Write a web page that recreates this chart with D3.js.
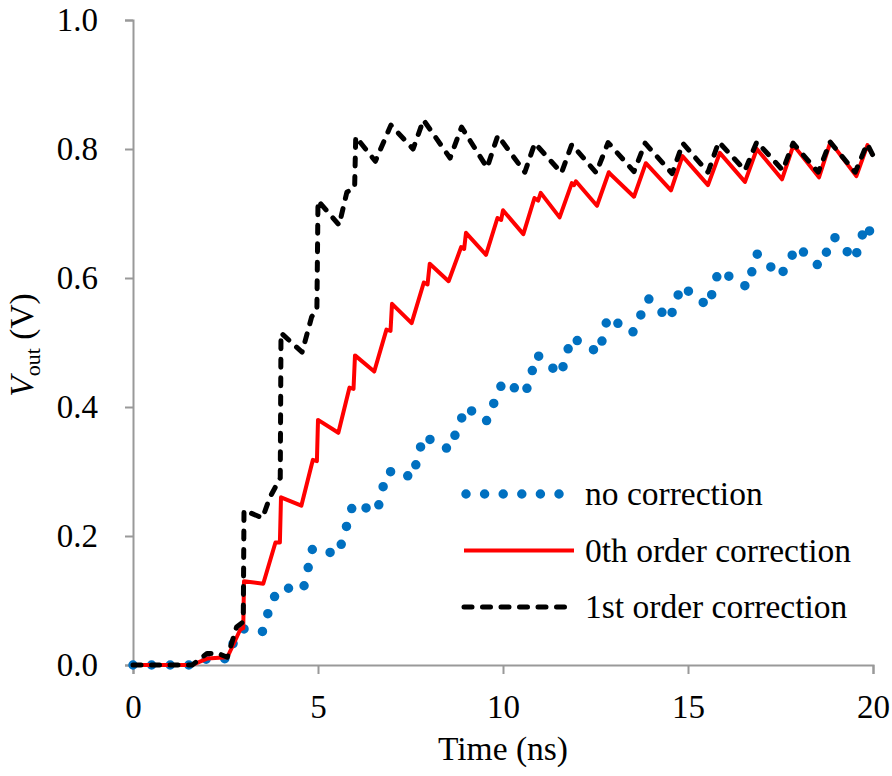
<!DOCTYPE html>
<html>
<head>
<meta charset="utf-8">
<script src="https://cdn.jsdelivr.net/npm/d3@7"></script>
<style>
  body { margin: 0; background: #fff; }
  svg { display: block; font-family: 'Liberation Serif', 'Times New Roman', serif; }
</style>
</head>
<body>
<svg id="chart" width="892" height="776"></svg>
<script>
// axis ticks
const xTicks = [0, 5, 10, 15, 20];
const yTicks = [0, 0.2, 0.4, 0.6, 0.8, 1.0];

const seriesNames = ['no correction', '0th order correction', '1st order correction'];

// no correction (dotted blue)
const noCorrTime = [0, 1.6, 1.95, 2.55, 2.75, 3.0, 3.5, 3.75, 4.0, 4.6, 4.85, 5.55, 5.95, 6.6, 6.85, 7.1,
  7.55, 7.85, 8.55, 9.0, 9.55, 10.0, 10.6, 10.92, 11.56, 11.85, 12.6, 12.83, 13.5, 13.93, 14.5, 14.82,
  15.55, 15.83, 16.6, 16.87, 17.5, 17.95, 18.55, 18.95, 19.5, 19.8, 20];
const noCorrVout = [0, 0, 0.009, 0.01, 0.04, 0.056, 0.052, 0.1, 0.12, 0.117, 0.18, 0.172, 0.25, 0.238, 0.298, 0.302,
  0.29, 0.355, 0.334, 0.4, 0.378, 0.44, 0.42, 0.481, 0.45, 0.508, 0.484, 0.54, 0.515, 0.568, 0.535, 0.588,
  0.556, 0.612, 0.586, 0.637, 0.603, 0.649, 0.618, 0.664, 0.628, 0.683, 0.664];

// 0th order correction (solid red)
const zerothTime = [0, 1.6, 2.0, 2.55, 2.9, 2.98, 3.0, 3.52, 3.85, 3.97, 4.0, 4.55, 4.86, 4.97, 5.0, 5.55,
  5.85, 5.96, 6.0, 6.52, 6.85, 6.96, 7.0, 7.53, 7.86, 7.96, 8.02, 8.53, 8.87, 8.95, 9.0, 9.54, 9.85, 9.95,
  10.0, 10.55, 10.85, 10.95, 11.02, 11.53, 11.86, 11.92, 11.97, 12.54, 12.86, 12.92, 13.54, 13.86, 14.54,
  14.85, 15.54, 15.86, 16.54, 16.86, 17.54, 17.85, 18.54, 18.85, 19.55, 19.85, 20];
const zerothVout = [0, 0, 0.01, 0.012, 0.055, 0.057, 0.13, 0.126, 0.19, 0.19, 0.26, 0.247, 0.318, 0.316, 0.38, 0.36,
  0.43, 0.428, 0.48, 0.455, 0.52, 0.518, 0.56, 0.53, 0.593, 0.59, 0.622, 0.595, 0.648, 0.645, 0.67, 0.636, 0.693, 0.69,
  0.705, 0.668, 0.724, 0.72, 0.732, 0.694, 0.747, 0.744, 0.75, 0.712, 0.764, 0.76, 0.726, 0.778, 0.736,
  0.789, 0.744, 0.794, 0.749, 0.8, 0.753, 0.806, 0.756, 0.811, 0.758, 0.806, 0.79];

// 1st order correction (dashed black)
const firstTime = [0, 1.6, 2.0, 2.3, 2.55, 2.8, 2.98, 3.0, 3.5, 3.7, 3.98, 4.0, 4.57, 4.83, 4.97, 5.0, 5.57, 5.78,
  5.99, 6.02, 6.55, 6.97, 7.57, 7.85, 8.57, 8.88, 9.57, 9.86, 10.59, 10.86, 11.58, 11.86, 12.52, 12.84,
  13.54, 13.84, 14.57, 14.86, 15.54, 15.83, 16.54, 16.86, 17.56, 17.84, 18.52, 18.84, 19.52, 19.84, 20];
const firstVout = [0, 0, 0.018, 0.018, 0.012, 0.059, 0.067, 0.24, 0.228, 0.26, 0.29, 0.515, 0.485, 0.54, 0.55, 0.72, 0.682, 0.733,
  0.74, 0.819, 0.781, 0.837, 0.80, 0.845, 0.786, 0.834, 0.771, 0.821, 0.764, 0.809, 0.763, 0.807, 0.763, 0.81,
  0.765, 0.809, 0.762, 0.809, 0.764, 0.811, 0.767, 0.811, 0.767, 0.809, 0.764, 0.811, 0.764, 0.808, 0.79];

class VoutChart {
  constructor(_config) {
    this.config = {
      parentElementSelector: _config.parentElementSelector,
      margin: _config.margin || { top: 20, right: 19, bottom: 111, left: 133 },
    };
    this.series = [
      { name: seriesNames[0], time: noCorrTime, vout: noCorrVout, color: '#0070c0', width: 9.5, dash: '0 18.6' },
      { name: seriesNames[1], time: zerothTime, vout: zerothVout, color: '#ff0000', width: 4, dash: null },
      { name: seriesNames[2], time: firstTime, vout: firstVout, color: '#000000', width: 5, dash: '8 10.5' },
    ];
    this.initVis();
  }

  initVis() {
    this.svg = d3.select(this.config.parentElementSelector);
    const m = this.config.margin;
    this.width = +this.svg.attr('width') - m.left - m.right;
    this.height = +this.svg.attr('height') - m.top - m.bottom;

    this.xScale = d3.scaleLinear().domain([0, 20]).range([0, this.width]);
    this.yScale = d3.scaleLinear().domain([0, 1]).range([this.height, 0]);

    this.chart = this.svg.append('g').attr('transform', `translate(${m.left},${m.top})`);

    this.xAxisG = this.chart.append('g').attr('class', 'axis x-axis')
      .attr('transform', `translate(0,${this.height})`);
    this.yAxisG = this.chart.append('g').attr('class', 'axis y-axis');

    this.updateVis();
  }

  updateVis() {
    const xAxis = d3.axisBottom(this.xScale).tickValues(xTicks).tickSize(9).tickPadding(21)
      .tickFormat(d3.format('d'));
    const yAxis = d3.axisLeft(this.yScale).tickValues(yTicks).tickSize(8).tickPadding(27)
      .tickFormat(d3.format('.1f'));

    this.xAxisG.call(xAxis);
    this.yAxisG.call(yAxis);

    // excel-like grey axes
    this.chart.selectAll('.axis path, .axis line').attr('stroke', '#999').attr('stroke-width', 2);
    this.chart.selectAll('.axis text')
      .attr('fill', '#000')
      .style('font-family', "'Liberation Serif', 'Times New Roman', serif")
      .style('font-size', '33px');

    const line = d3.line()
      .x((d) => this.xScale(d[0]))
      .y((d) => this.yScale(d[1]));

    this.chart.append('g').attr('class', 'data-group')
      .selectAll('.series')
      .data(this.series)
      .join('path')
      .attr('class', 'series')
      .attr('d', (s) => line(s.time.map((t, i) => [t, s.vout[i]])))
      .attr('fill', 'none')
      .attr('stroke', (s) => s.color)
      .attr('stroke-width', (s) => s.width)
      .attr('stroke-dasharray', (s) => s.dash)
      .attr('stroke-linecap', (s) => (s.dash ? 'round' : 'butt'))
      .attr('stroke-linejoin', 'round');

    this.drawLegend();
    this.drawTitles();
  }

  drawLegend() {
    const legend = this.svg.append('g').attr('class', 'legend');
    const rows = legend.selectAll('.legend-row')
      .data(this.series)
      .join('g')
      .attr('class', 'legend-row')
      .attr('transform', (d, i) => `translate(464,${494 + i * 56.5})`);

    rows.append('line')
      .attr('x1', (d) => (d.dash === '0 18.6' ? 2 : 0))
      .attr('x2', (d) => (d.dash === '0 18.6' ? 96 : 110))
      .attr('y1', 0).attr('y2', 0)
      .attr('stroke', (d) => d.color)
      .attr('stroke-width', (d) => d.width)
      .attr('stroke-dasharray', (d) => d.dash)
      .attr('stroke-linecap', (d) => (d.dash ? 'round' : 'butt'));

    rows.append('text')
      .attr('x', 121)
      .attr('y', 11)
      .style('font-size', '33.5px')
      .attr('fill', '#000')
      .text((d) => d.name);
  }

  drawTitles() {
    this.svg.append('text')
      .attr('x', this.config.margin.left + this.width / 2)
      .attr('y', 760)
      .attr('text-anchor', 'middle')
      .style('font-size', '33.5px')
      .text('Time (ns)');

    const yt = this.svg.append('text')
      .attr('transform', 'translate(33,345) rotate(-90)')
      .attr('text-anchor', 'middle')
      .style('font-size', '33.5px');
    yt.append('tspan').style('font-style', 'italic').text('V');
    yt.append('tspan').attr('dy', 7).style('font-size', '22px').text('out');
    yt.append('tspan').attr('dy', -7).text(' (V)');
  }
}

const chart = new VoutChart({ parentElementSelector: '#chart' });
</script>
</body>
</html>
